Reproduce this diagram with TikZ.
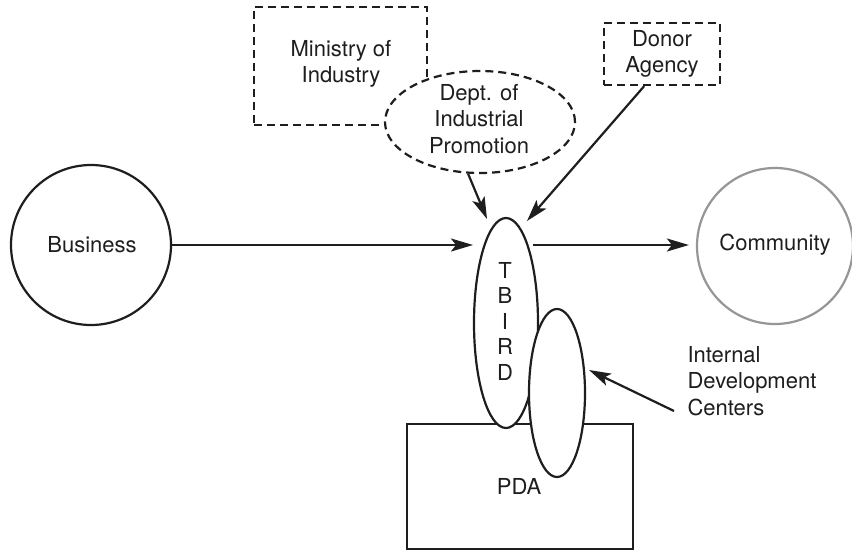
\documentclass[tikz,border=0pt]{standalone}
\usepackage{fontspec}
\setmainfont{TeX Gyre Heros}
\usetikzlibrary{shapes.geometric,arrows.meta}
\definecolor{ink}{RGB}{30,30,30}
\definecolor{commgray}{RGB}{150,150,150}
\begin{document}
\begin{tikzpicture}[x=1pt,y=-1pt,
  every node/.style={font=\fontsize{22}{26.4}\selectfont, text=ink, align=center},
  line/.style={draw=ink, line width=2.2pt},
  dashline/.style={draw=ink, line width=2.2pt, dash pattern=on 8pt off 5pt},
  arr/.style={draw=ink, line width=2.2pt, -{Stealth[length=22pt,width=13pt,inset=5pt]}},
  circ/.style={circle, line width=2.2pt, fill=white, inner sep=0pt},
  ell/.style={ellipse, line width=2.2pt, fill=white, inner sep=0pt}
]
\useasboundingbox (0,0) rectangle (852,552);
\fill[white] (0,0) rectangle (852,552);

% Ministry of Industry box
\node[dashline, rectangle, minimum width=173pt, minimum height=118pt, inner sep=0pt] (min) at (340.5,66) {};
\node (mintext) at (341,64) {Ministry of\\Industry};

% Dept of Industrial Promotion ellipse
\node[ell, dashline, fill=white, minimum width=190pt, minimum height=102pt] (dept) at (480,122) {};
\node (depttext) at (479,119) {Dept. of\\Industrial\\Promotion};

% Donor Agency box
\node[dashline, rectangle, minimum width=116pt, minimum height=62pt, inner sep=0pt] (donor) at (662,54) {};
\node (donortext) at (662,54) {Donor\\Agency};

% Business and Community circles
\node[circ, draw=ink, minimum size=160pt] (bus) at (91,245) {};
\node (bustext) at (92,245) {Business};
\node[circ, draw=commgray, minimum size=156pt] (comm) at (775,246) {};
\node (commtext) at (775,245) {Community};

% PDA rectangle
\node[line, rectangle, minimum width=226pt, minimum height=125pt, inner sep=0pt] (pda) at (520,486.5) {};
\node (pdatext) at (519,486) {PDA};

% TBIRD ellipse
\node[ell, line, minimum width=64pt, minimum height=210pt] (tbird) at (506,323) {};
\node[font=\fontsize{22}{25.5}\selectfont] (tbirdtext) at (505,321) {T\\B\\I\\R\\D};

% Internal development centers ellipse
\node[ell, line, minimum width=56pt, minimum height=168pt] (idc) at (557,393) {};

% Label for internal development centers
\node[anchor=base west, align=left] (idclabel) at (684,415) {Internal\\Development\\Centers};

% Connector endpoints
\coordinate (dtip) at (487,219);
\coordinate (atip) at (527,221);
\coordinate (idcstart) at (674,411);
\coordinate (idctip) at (589,370);

% Connectors
\draw[arr] (bus.east) -- (bus.east -| 473,0);
\draw[arr] ([xshift=-6pt]bus.east -| tbird.east) -- ([xshift=-7pt]bus.east -| comm.west);
\draw[arr] (dept.257) -- (dtip);
\draw[arr] (donor.241) -- (atip);
\draw[arr] (idcstart) -- (idctip);
\end{tikzpicture}
\end{document}
